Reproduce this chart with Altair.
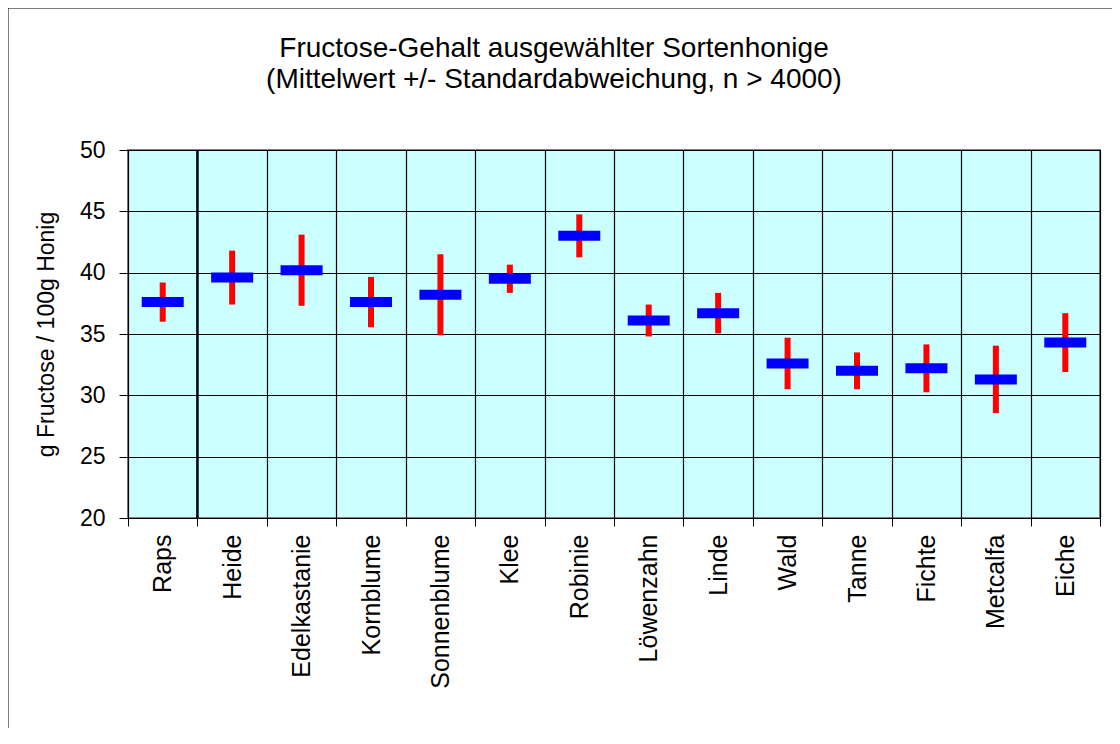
import altair as alt
import pandas as pd

sorten = ["Raps", "Heide", "Edelkastanie", "Kornblume", "Sonnenblume", "Klee", "Robinie",
          "Löwenzahn", "Linde", "Wald", "Tanne", "Fichte", "Metcalfa", "Eiche"]
mittelwert = [37.6, 39.6, 40.2, 37.6, 38.2, 39.5, 43.0, 36.1, 36.7, 32.6, 32.0, 32.2, 31.3, 34.3]
standardabw = [1.6, 2.2, 2.9, 2.05, 3.3, 1.15, 1.75, 1.3, 1.65, 2.1, 1.5, 1.95, 2.75, 2.4]
y_ticks = [20, 25, 30, 35, 40, 45, 50]
title_lines = ["Fructose-Gehalt ausgewählter Sortenhonige",
               "(Mittelwert +/- Standardabweichung,  n > 4000)"]

df = pd.DataFrame({"Sorte": sorten, "mw": mittelwert, "sd": standardabw})
df["lo"] = df["mw"] - df["sd"]
df["hi"] = df["mw"] + df["sd"]

FONT = "Liberation Sans"

x_enc = alt.X("Sorte:N", sort=sorten,
              scale=alt.Scale(paddingInner=0, paddingOuter=0),
              axis=alt.Axis(title=None, labelAngle=-90, labelFontSize=25, labelFont=FONT,
                            labelColor="black", labelPadding=8, tickBand="extent",
                            grid=True, gridColor="black", gridWidth=1.2, gridOpacity=1,
                            ticks=True, tickColor="black", tickSize=8, domain=False))
y_scale = alt.Scale(domain=[20, 50], nice=False, zero=False)
y_axis = alt.Axis(title="g Fructose / 100g Honig", values=y_ticks, titleFontSize=23,
                  titleFont=FONT, titleFontWeight="normal", titleColor="black",
                  titlePadding=21, labelFontSize=23, labelFont=FONT, labelColor="black",
                  labelPadding=14, grid=True, gridColor="black", gridWidth=1.2, gridOpacity=1,
                  ticks=True, tickColor="black", tickSize=9, domain=False)

base = alt.Chart(df)

err = base.mark_rule(color="#FF0000", strokeWidth=6).encode(
    x=x_enc,
    y=alt.Y("lo:Q", scale=y_scale, axis=y_axis),
    y2="hi:Q",
)
mean = base.mark_tick(color="#0000FF", thickness=10, size=42, orient="horizontal", opacity=1).encode(
    x=alt.X("Sorte:N", sort=sorten),
    y=alt.Y("mw:Q"),
)
# thicker separator line left of "Heide"
sep = base.transform_filter(alt.datum.Sorte == "Heide").mark_rule(
    color="black", strokeWidth=2.5).encode(
    x=alt.X("Sorte:N", sort=sorten, bandPosition=0),
    y=alt.value(0), y2=alt.value(368))

frame = alt.Chart(alt.Data(values=[{"a": 1}]))
left_border = frame.mark_rule(color="black", strokeWidth=1).encode(
    x=alt.value(-120), y=alt.value(-142), y2=alt.value(600))
top_border = frame.mark_rule(color="black", strokeWidth=1).encode(
    x=alt.value(-120), x2=alt.value(984), y=alt.value(-142))

title1 = frame.mark_text(fontSize=28, font=FONT, color="black", align="center",
                         baseline="alphabetic").encode(
    x=alt.value(426), y=alt.value(-93), text=alt.value(title_lines[0]))
title2 = frame.mark_text(fontSize=28, font=FONT, color="black", align="center",
                         baseline="alphabetic").encode(
    x=alt.value(426), y=alt.value(-62), text=alt.value(title_lines[1]))

chart = alt.layer(err, sep, mean, left_border, top_border, title1, title2).properties(
    width=972,
    height=368,
    background="white",
    autosize=alt.AutoSizeParams(type="none"),
    padding={"left": 120, "top": 142, "right": 12, "bottom": 210},
).configure_view(
    fill="#CCFFFF", stroke="#808080", strokeWidth=2
)

chart.save("out.html", embed_options={"renderer": "svg", "actions": False})
